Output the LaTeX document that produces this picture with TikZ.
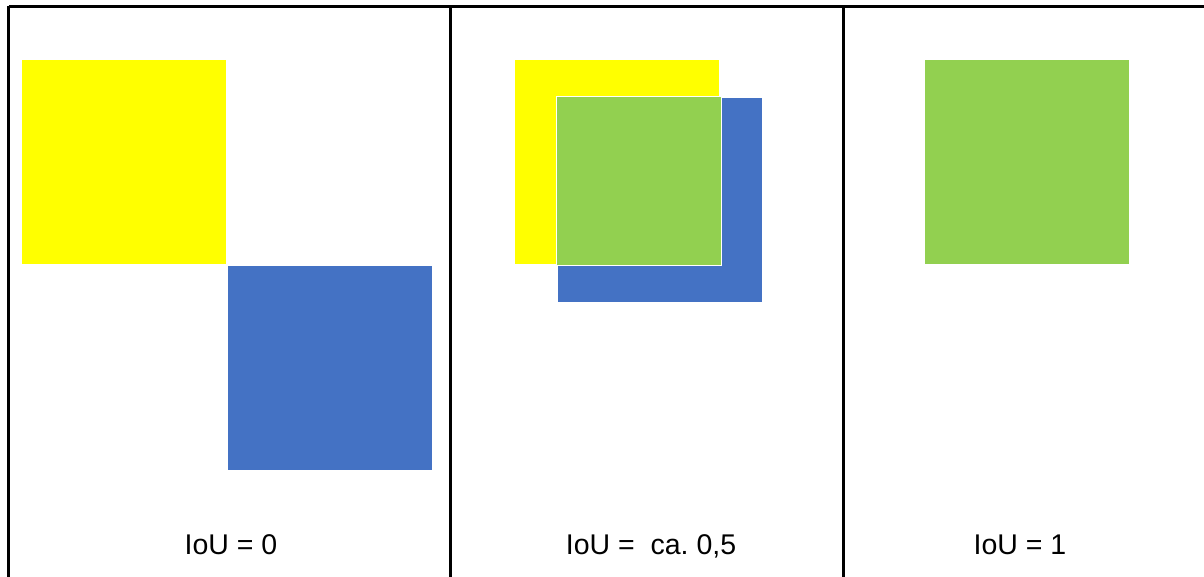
\documentclass[tikz,border=0pt]{standalone}
\usepackage{fontspec}
\setmainfont{Liberation Sans}
\frenchspacing
\definecolor{boxyellow}{HTML}{FFFF00}
\definecolor{boxblue}{HTML}{4472C4}
\definecolor{boxgreen}{HTML}{92D050}
\begin{document}
\begin{tikzpicture}[x=1pt,y=-1pt,
  frame/.style={line width=3pt,black},
  sq/.style={inner sep=0pt,outer sep=0pt,minimum width=204pt,minimum height=204pt,anchor=north west},
  lbl/.style={font=\fontsize{28.5}{34}\selectfont,anchor=base,inner sep=0pt}]
\useasboundingbox (0,0) rectangle (1204,577);
\fill[white] (0,0) rectangle (1204,577);
% frame lines
\coordinate (tl) at (8.5,6.5);
\coordinate (tr) at (1204,6.5);
\coordinate (bl) at (8.5,577);
\coordinate (m1t) at (450.5,6.5);
\coordinate (m1b) at (450.5,577);
\coordinate (m2t) at (843.5,6.5);
\coordinate (m2b) at (843.5,577);
\draw[frame] (tl) -- (tr);
\draw[frame] (tl) -- (bl);
\draw[frame] (m1t) -- (m1b);
\draw[frame] (m2t) -- (m2b);
% panel 1
\node[sq,fill=boxyellow] (y1) at (22,60) {};
\node[sq,fill=boxblue] (b1) at (228,266) {};
% panel 2
\node[sq,fill=boxyellow] (y2) at (515,60) {};
\node[sq,fill=boxblue] (b2) at (558,98) {};
\node[sq,fill=boxgreen,draw=white,line width=1pt,minimum width=165pt,minimum height=169pt] (g2) at (556.5,96.5) {};
% panel 3
\node[sq,fill=boxgreen] (g3) at (925,60) {};
% labels
\node[lbl] (l1) at (231,554) {IoU = 0};
\node[lbl] (l2) at (651,554) {IoU = \ ca. 0,5};
\node[lbl] (l3) at (1020,554) {IoU = 1};
\end{tikzpicture}
\end{document}
